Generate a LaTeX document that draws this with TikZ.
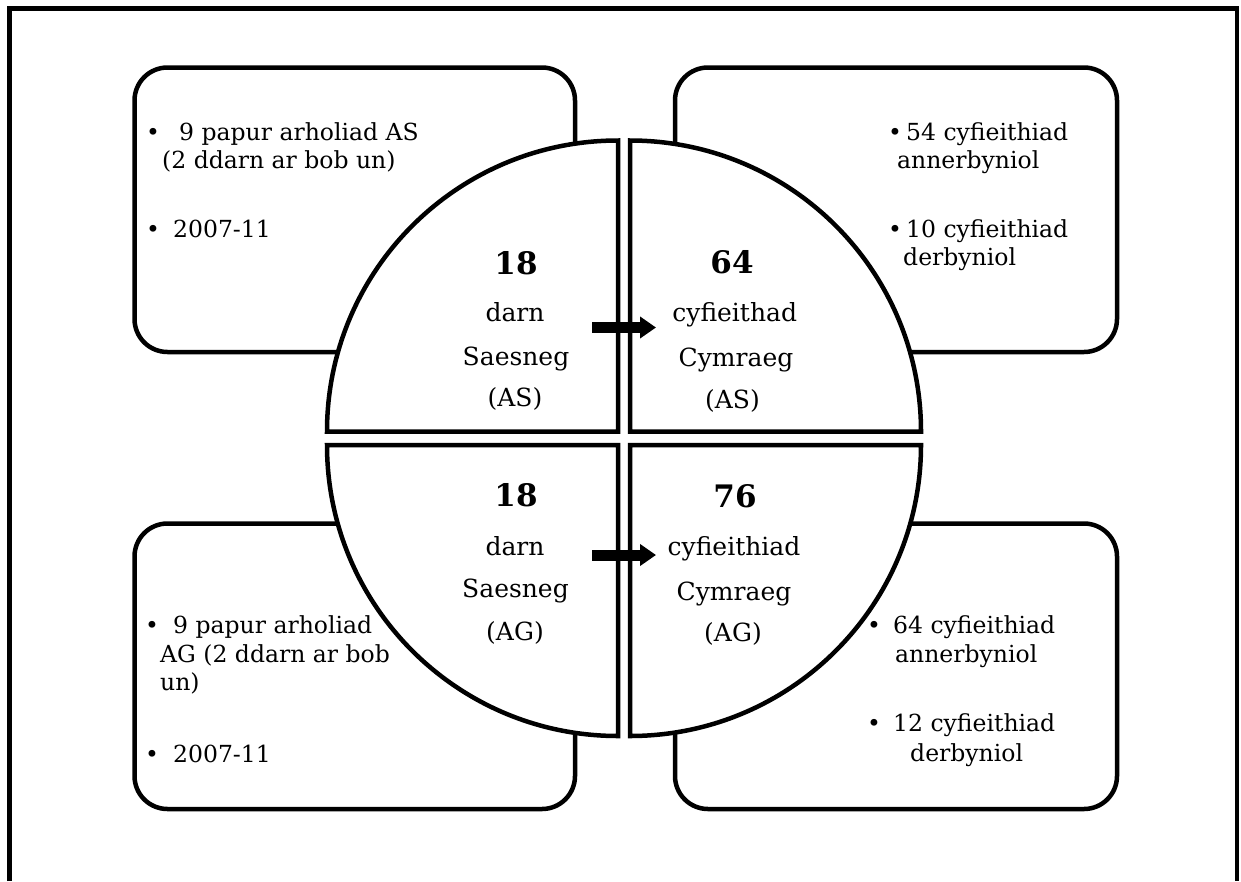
\documentclass[tikz,border=0pt]{standalone}
\usepackage{fontspec}
\setmainfont{DejaVu Serif}
\usetikzlibrary{arrows.meta}

\tikzset{
  frameline/.style={line width=4.5pt},
  infobox/.style={draw, line width=4.5pt, rounded corners=33pt, fill=white,
                  inner sep=0pt, outer sep=0pt},
  quarter/.style={draw, line width=4.5pt, fill=white},
  txt/.style={inner sep=0pt, font=\fontsize{25}{29}\selectfont},
  boxtxt/.style={inner sep=0pt, font=\fontsize{23.5}{28}\selectfont},
  num/.style={inner sep=0pt, font=\fontsize{31}{36}\selectfont\bfseries},
  blockarrow/.style={line width=11pt, -{Triangle[length=16pt,width=21pt]}},
}

\begin{document}
\begin{tikzpicture}[x=1pt, y=-1pt]
\useasboundingbox (0,0) rectangle (1241,881);

% open outer frame
\draw[frameline] (9.5,881) -- (9.5,8.5) -- (1237,8.5) -- (1237,881);

% four rounded information boxes
\node[infobox, minimum width=440.5pt, minimum height=284.5pt] (boxTL) at (354.75,209.75) {};
\node[infobox, minimum width=442pt,   minimum height=284.5pt] (boxTR) at (896,209.75) {};
\node[infobox, minimum width=440.5pt, minimum height=285.5pt] (boxBL) at (354.75,666.25) {};
\node[infobox, minimum width=442pt,   minimum height=285.5pt] (boxBR) at (896,666.25) {};

% circle split into four quarters
\draw[quarter] (618,431.5) -- (327,431.5) arc[start angle=180, end angle=270, radius=291] -- cycle;
\draw[quarter] (630,431.5) -- (630,140.5) arc[start angle=270, end angle=360, radius=291] -- cycle;
\draw[quarter] (618,445) -- (327,445) arc[start angle=180, end angle=90, radius=291] -- cycle;
\draw[quarter] (630,445) -- (921,445) arc[start angle=0, end angle=90, radius=291] -- cycle;

% quarter texts
\node[num, anchor=base] (nTL) at (516,274) {18};
\node[txt, anchor=base] (tTL1) at (515,321.7) {darn};
\node[txt, anchor=base] (tTL2) at (516,365) {Saesneg};
\node[txt, anchor=base] (tTL3) at (515,406.7) {(AS)};

\node[num, anchor=base] (nTR) at (732,273.3) {64};
\node[txt, anchor=base] (tTR1) at (734.7,321) {cyfieithad};
\node[txt, anchor=base] (tTR2) at (736,366.7) {Cymraeg};
\node[txt, anchor=base] (tTR3) at (732.5,408) {(AS)};

\node[num, anchor=base] (nBL) at (516,506.7) {18};
\node[txt, anchor=base] (tBL1) at (515,555) {darn};
\node[txt, anchor=base] (tBL2) at (515.5,597) {Saesneg};
\node[txt, anchor=base] (tBL3) at (515,640) {(AG)};

\node[num, anchor=base] (nBR) at (735,507.7) {76};
\node[txt, anchor=base] (tBR1) at (734,555) {cyfieithiad};
\node[txt, anchor=base] (tBR2) at (734,600) {Cymraeg};
\node[txt, anchor=base] (tBR3) at (733,641.7) {(AG)};

% block arrows between the quarters
\coordinate (a1s) at (592,327.5);
\coordinate (a1e) at (656,327.5);
\coordinate (a2s) at (592,555);
\coordinate (a2e) at (656,555);
\draw[blockarrow] (a1s) -- (a1e);
\draw[blockarrow] (a2s) -- (a2e);

% top-left box text
\node[boxtxt, anchor=base] (bTL1) at (153,140) {•};
\node[boxtxt, anchor=base west] (lTL1) at (179,140) {9 papur arholiad AS};
\node[boxtxt, anchor=base west] (lTL2) at (162,168) {(2 ddarn ar bob un)};
\node[boxtxt, anchor=base] (bTL2) at (153,237) {•};
\node[boxtxt, anchor=base west] (lTL3) at (173,237) {2007-11};

% top-right box text
\node[boxtxt, anchor=base] (bTR1) at (895,140) {•};
\node[boxtxt, anchor=base west] (lTR1) at (906,140) {54 cyfieithiad};
\node[boxtxt, anchor=base west] (lTR2) at (897,168) {annerbyniol};
\node[boxtxt, anchor=base] (bTR2) at (895,237) {•};
\node[boxtxt, anchor=base west] (lTR3) at (906,237) {10 cyfieithiad};
\node[boxtxt, anchor=base west] (lTR4) at (903,265.7) {derbyniol};

% bottom-left box text
\node[boxtxt, anchor=base] (bBL1) at (152,633) {•};
\node[boxtxt, anchor=base west] (lBL1) at (173,633) {9 papur arholiad};
\node[boxtxt, anchor=base west] (lBL2) at (160,662) {AG (2 ddarn ar bob};
\node[boxtxt, anchor=base west] (lBL3) at (160,690) {un)};
\node[boxtxt, anchor=base] (bBL2) at (152,762) {•};
\node[boxtxt, anchor=base west] (lBL4) at (173,762) {2007-11};

% bottom-right box text
\node[boxtxt, anchor=base] (bBR1) at (874,633) {•};
\node[boxtxt, anchor=base west] (lBR1) at (893,633) {64 cyfieithiad};
\node[boxtxt, anchor=base west] (lBR2) at (895,662) {annerbyniol};
\node[boxtxt, anchor=base] (bBR2) at (874,731) {•};
\node[boxtxt, anchor=base west] (lBR3) at (893,731) {12 cyfieithiad};
\node[boxtxt, anchor=base west] (lBR4) at (910,761) {derbyniol};
\end{tikzpicture}
\end{document}
